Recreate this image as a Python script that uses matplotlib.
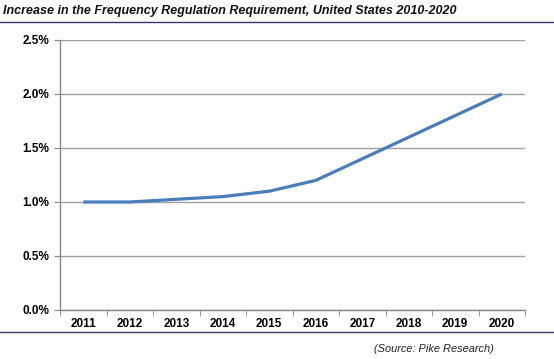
import matplotlib
matplotlib.use("Agg")
import matplotlib.pyplot as plt
from matplotlib.lines import Line2D
from matplotlib.ticker import FuncFormatter, FixedLocator

years = ["2011", "2012", "2013", "2014", "2015", "2016", "2017", "2018", "2019", "2020"]
requirement_pct = [1.0, 1.0, 1.025, 1.05, 1.1, 1.2, 1.4, 1.6, 1.8, 2.0]
y_ticks = [0.0, 0.5, 1.0, 1.5, 2.0, 2.5]

plt.rcParams['font.family'] = ['Liberation Sans', 'DejaVu Sans']

fig = plt.figure(figsize=(5.54, 3.59), dpi=100)
fig.patch.set_facecolor('white')
ax = fig.add_axes([60/554, 1-310/359, 465/554, 270/359])

x = list(range(len(years)))
ax.plot(x, requirement_pct, color='#4A7EBB', linewidth=2.3, solid_capstyle='butt', zorder=3)

ax.set_xlim(-0.5, len(years) - 0.5)
ax.set_ylim(0, 2.5)
ax.set_yticks(y_ticks)
ax.yaxis.set_major_formatter(FuncFormatter(lambda v, p: f"{v:.1f}%"))
ax.set_xticks(x)
ax.set_xticklabels(years)
ax.xaxis.set_minor_locator(FixedLocator([i - 0.5 for i in range(len(years) + 1)]))
ax.tick_params(axis='x', which='major', length=0, pad=6, labelsize=8.5)
ax.tick_params(axis='x', which='minor', length=4, color='#888888', direction='out')
ax.tick_params(axis='y', length=4, color='#888888', direction='out', pad=4, labelsize=8.5)
for lbl in ax.get_xticklabels() + ax.get_yticklabels():
    lbl.set_fontweight('bold')

ax.grid(axis='y', color='#A0A0A0', linewidth=1.0)
ax.set_axisbelow(True)
for s in ['top', 'right']:
    ax.spines[s].set_visible(False)
for s in ['left', 'bottom']:
    ax.spines[s].set_color('#888888')
    ax.spines[s].set_linewidth(1.0)

fig.text(3/554, 1-11/359, "Increase in the Frequency Regulation Requirement, United States 2010-2020",
         fontsize=9.0, fontstyle='italic', fontweight='bold', va='center', ha='left', color='#111111')
fig.add_artist(Line2D([0, 553/554], [1-22/359, 1-22/359], color='#3B3470', linewidth=1.0))
fig.add_artist(Line2D([0, 553/554], [1-332/359, 1-332/359], color='#3B3470', linewidth=1.0))
fig.text(494/554, 1-349/359, "(Source: Pike Research)", fontsize=7.9, fontstyle='italic',
         va='center', ha='right', color='#222222')

fig.savefig("out.png", dpi=100, facecolor='white')
